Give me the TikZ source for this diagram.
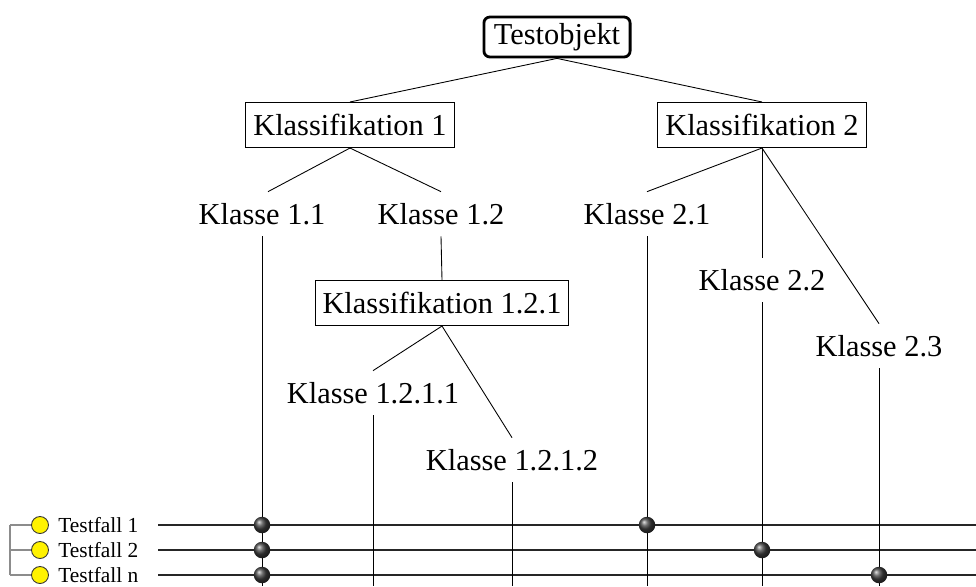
\documentclass[tikz,border=0pt]{standalone}
\usepackage{fontspec}
\setmainfont{Liberation Serif}
\usetikzlibrary{positioning}

\begin{document}
\begin{tikzpicture}[x=0.02cm, y=-0.02cm,
    kbox/.style={draw, line width=0.6pt, inner xsep=0.15cm, minimum height=0.9cm,
        font=\fontsize{17.3}{20}\selectfont},
    klasse/.style={inner sep=0pt, minimum height=0.88cm,
        font=\fontsize{17.3}{20}\selectfont},
    tfall/.style={inner sep=0pt, anchor=west, font=\fontsize{12.2}{14}\selectfont},
    marker/.style={circle, draw=black!80, fill=yellow, line width=0.5pt,
        inner sep=0pt, minimum size=0.34cm},
    treffer/.style={circle, inner sep=0pt, minimum size=0.33cm,
        shading=ball, ball color=black!75},
    ast/.style={line width=0.5pt}]
    \useasboundingbox (0,0) rectangle (976,586);

    % Draw the tree
    \node[kbox, line width=1.6pt, rounded corners=0.12cm, minimum height=0.8cm,
        inner xsep=0.2cm] (obj) at (557,37) {Testobjekt};
    \node[kbox] (kl1) at (350,125) {Klassifikation 1};
    \node[kbox] (kl2) at (762,125) {Klassifikation 2};
    \node[klasse] (k11) at (262,214) {Klasse 1.1};
    \node[klasse] (k12) at (441,214) {Klasse 1.2};
    \node[kbox] (kl121) at (442,303) {Klassifikation 1.2.1};
    \node[klasse] (k1211) at (373,393) {Klasse 1.2.1.1};
    \node[klasse] (k1212) at (512,460) {Klasse 1.2.1.2};
    \node[klasse] (k21) at (647,214) {Klasse 2.1};
    \node[klasse] (k22) at (762,280) {Klasse 2.2};
    \node[klasse] (k23) at (879,346) {Klasse 2.3};

    \draw[ast] (obj.south) -- (kl1.north);
    \draw[ast] (obj.south) -- (kl2.north);
    \draw[ast] (kl1.south) -- ([xshift=0.12cm]k11.north);
    \draw[ast] (kl1.south) -- (k12.north);
    \draw[ast] (k12.south) -- (kl121.north);
    \draw[ast] (kl121.south) -- (k1211.north);
    \draw[ast] (kl121.south) -- (k1212.north);
    \draw[ast] (kl2.south) -- (k21.north);
    \draw[ast] (kl2.south) -- (k22.north);
    \draw[ast] (kl2.south) -- (k23.north);

    % Draw the test cases
    \coordinate (bot) at (0,586);
    \foreach \n/\y/\t in {1/525/Testfall 1, 2/550/Testfall 2, 3/575/Testfall n} {
        \node[marker] (m\n) at (40,\y) {};
        \node[tfall] (tf\n) at (58,\y) {\t};
        \coordinate (r\n) at (158,\y);
        \coordinate (e\n) at (976,\y);
        \draw[line width=0.7pt, black!85] (r\n) -- (e\n);
    }
    \coordinate (g1) at (10,525);
    \coordinate (g3) at (10,575);
    \draw[black!45, line width=0.6pt] (g1) -- (g3);
    \foreach \n in {1,2,3}
        \draw[black!45, line width=0.6pt] (g1 |- m\n) -- (m\n.west);

    % Draw the leaf lines
    \foreach \k in {k11,k1211,k1212,k21,k22,k23}
        \draw[ast] (\k.south) -- (\k.south |- bot);

    % Draw the hits
    \node[treffer] at (k11 |- r1) {};
    \node[treffer] at (k11 |- r2) {};
    \node[treffer] at (k11 |- r3) {};
    \node[treffer] at (k21 |- r1) {};
    \node[treffer] at (k22 |- r2) {};
    \node[treffer] at (k23 |- r3) {};
\end{tikzpicture}
\end{document}
